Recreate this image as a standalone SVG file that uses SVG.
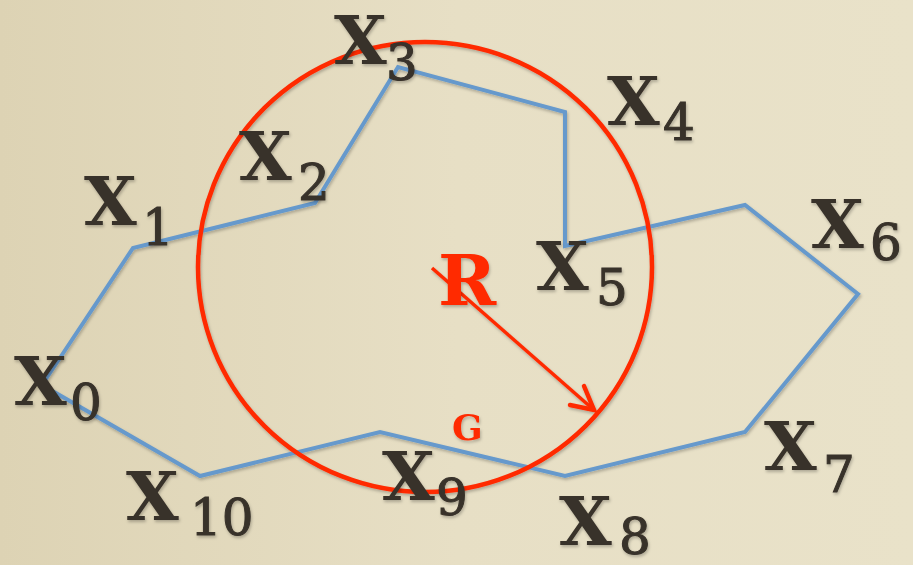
<svg xmlns="http://www.w3.org/2000/svg" width="913" height="565" viewBox="0 0 913 565">
<defs>
<linearGradient id="bg" x1="0" y1="0" x2="1" y2="0">
<stop offset="0" stop-color="#ddd3b4"/>
<stop offset="0.5" stop-color="#e7dfc5"/>
<stop offset="1" stop-color="#e9e2c9"/>
</linearGradient>
<filter id="sh" x="-20%" y="-20%" width="140%" height="140%">
<feDropShadow dx="1" dy="2" stdDeviation="1.5" flood-color="#000" flood-opacity="0.25"/>
</filter>
</defs>
<style>
.x{font-family:"DejaVu Serif",serif;font-weight:bold;font-size:68px;fill:#38322a}
.s{font-family:"DejaVu Serif",serif;font-size:50px;fill:#38322a;stroke:#38322a;stroke-width:1}
.red{fill:#ff2a00;font-family:"DejaVu Serif",serif;font-weight:bold}
.poly{fill:none;stroke:#6699cc;stroke-width:4;stroke-linejoin:miter}
</style>
<rect width="913" height="565" fill="url(#bg)"/>
<g id="connectors" filter="url(#sh)">
<polyline class="poly" points="42,385 133,248 315,203 398,67 565,112 565,246 745,205 858,294 745,432 565,476 380,432 200,476 42,385"/>
<ellipse id="circle" cx="425" cy="267" rx="227" ry="225" fill="none" stroke="#ff2a00" stroke-width="4.5"/>
<line x1="432" y1="268" x2="594" y2="410" stroke="#ff2a00" stroke-width="3.5"/>
<polyline points="570,405 594,410 584,386" fill="none" stroke="#ff2a00" stroke-width="4.5" stroke-linecap="round"/>
</g>
<g id="labels" filter="url(#sh)">
<g id="n0"><text class="x" x="14" y="405">X</text><text class="s" x="70" y="420">0</text></g>
<g id="n1"><text class="x" x="84" y="225">X</text><text class="s" x="142" y="245">1</text></g>
<g id="n2"><text class="x" x="239" y="180">X</text><text class="s" x="298" y="200">2</text></g>
<g id="n3"><text class="x" x="334" y="64">X</text><text class="s" x="386" y="80">3</text></g>
<g id="n4"><text class="x" x="607" y="125">X</text><text class="s" x="663" y="140">4</text></g>
<g id="n5"><text class="x" x="536" y="290">X</text><text class="s" x="596" y="305">5</text></g>
<g id="n6"><text class="x" x="811" y="248">X</text><text class="s" x="870" y="260">6</text></g>
<g id="n7"><text class="x" x="764" y="470">X</text><text class="s" x="823" y="492">7</text></g>
<g id="n8"><text class="x" x="559" y="545">X</text><text class="s" x="619" y="554">8</text></g>
<g id="n9"><text class="x" x="382" y="500">X</text><text class="s" x="436" y="515">9</text></g>
<g id="n10"><text class="x" x="126" y="520">X</text><text class="s" x="190" y="535">10</text></g>
<text class="red" x="438" y="305" font-size="70">R</text>
<text class="red" x="452" y="440" font-size="36">G</text>
</g>
</svg>
